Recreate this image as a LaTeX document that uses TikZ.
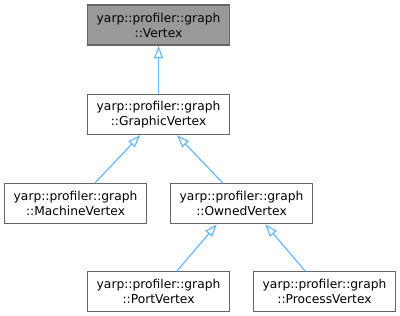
\documentclass[tikz,border=0pt]{standalone}
\usepackage{fontspec}
\setmainfont{DejaVu Sans}
\usepackage{xcolor}
\usetikzlibrary{positioning}
\usetikzlibrary{arrows.meta}

\definecolor{edgeblue}{HTML}{63B8FF}
\definecolor{basegray}{HTML}{999999}
\definecolor{boxline}{HTML}{666666}

\begin{document}
\begin{tikzpicture}[node distance=36pt and 0pt,
  cls/.style={draw=boxline, fill=white, line width=0.9pt, minimum width=106.5pt,
    minimum height=30pt, inner sep=0pt, align=center,
    font=\fontsize{9.2}{11.25}\selectfont},
  inh/.style={edgeblue, line width=0.9pt, {Triangle[open,length=9.5pt,width=6.75pt]}-}]
\useasboundingbox (0,0) rectangle (300pt,-236.25pt);
\node[cls, fill=basegray] (vertex) at (118.9pt,-18.75pt) {yarp::profiler::graph\\::Vertex};
\node[cls, below=36.2pt of vertex] (graphic) {yarp::profiler::graph\\::GraphicVertex};
%%%%%%%%%%%%%%%%%%%%%%%%%%%%%%%%%%%%%
\node[cls, below=of graphic, xshift=-62.25pt] (machine) {yarp::profiler::graph\\::MachineVertex};
\node[cls, below=of graphic, xshift=62.25pt] (owned) {yarp::profiler::graph\\::OwnedVertex};
%%%%%%%%%%%%%%%%%%%%%%%%%%%%%%%%%%%%%
\node[cls, below=35.25pt of owned, xshift=-62.25pt] (port) {yarp::profiler::graph\\::PortVertex};
\node[cls, below=35.25pt of owned, xshift=62.25pt] (process) {yarp::profiler::graph\\::ProcessVertex};

\draw[inh] (vertex) -- (graphic);
\draw[inh] ([xshift=-13.75pt]graphic.south) -- ([xshift=14.5pt]machine.north);
\draw[inh] ([xshift=13.75pt]graphic.south) -- ([xshift=-14pt]owned.north);
\draw[inh] ([xshift=-18.5pt]owned.south) -- ([xshift=13.65pt]port.north);
\draw[inh] ([xshift=17.75pt]owned.south) -- ([xshift=-14.4pt]process.north);
\end{tikzpicture}
\end{document}
